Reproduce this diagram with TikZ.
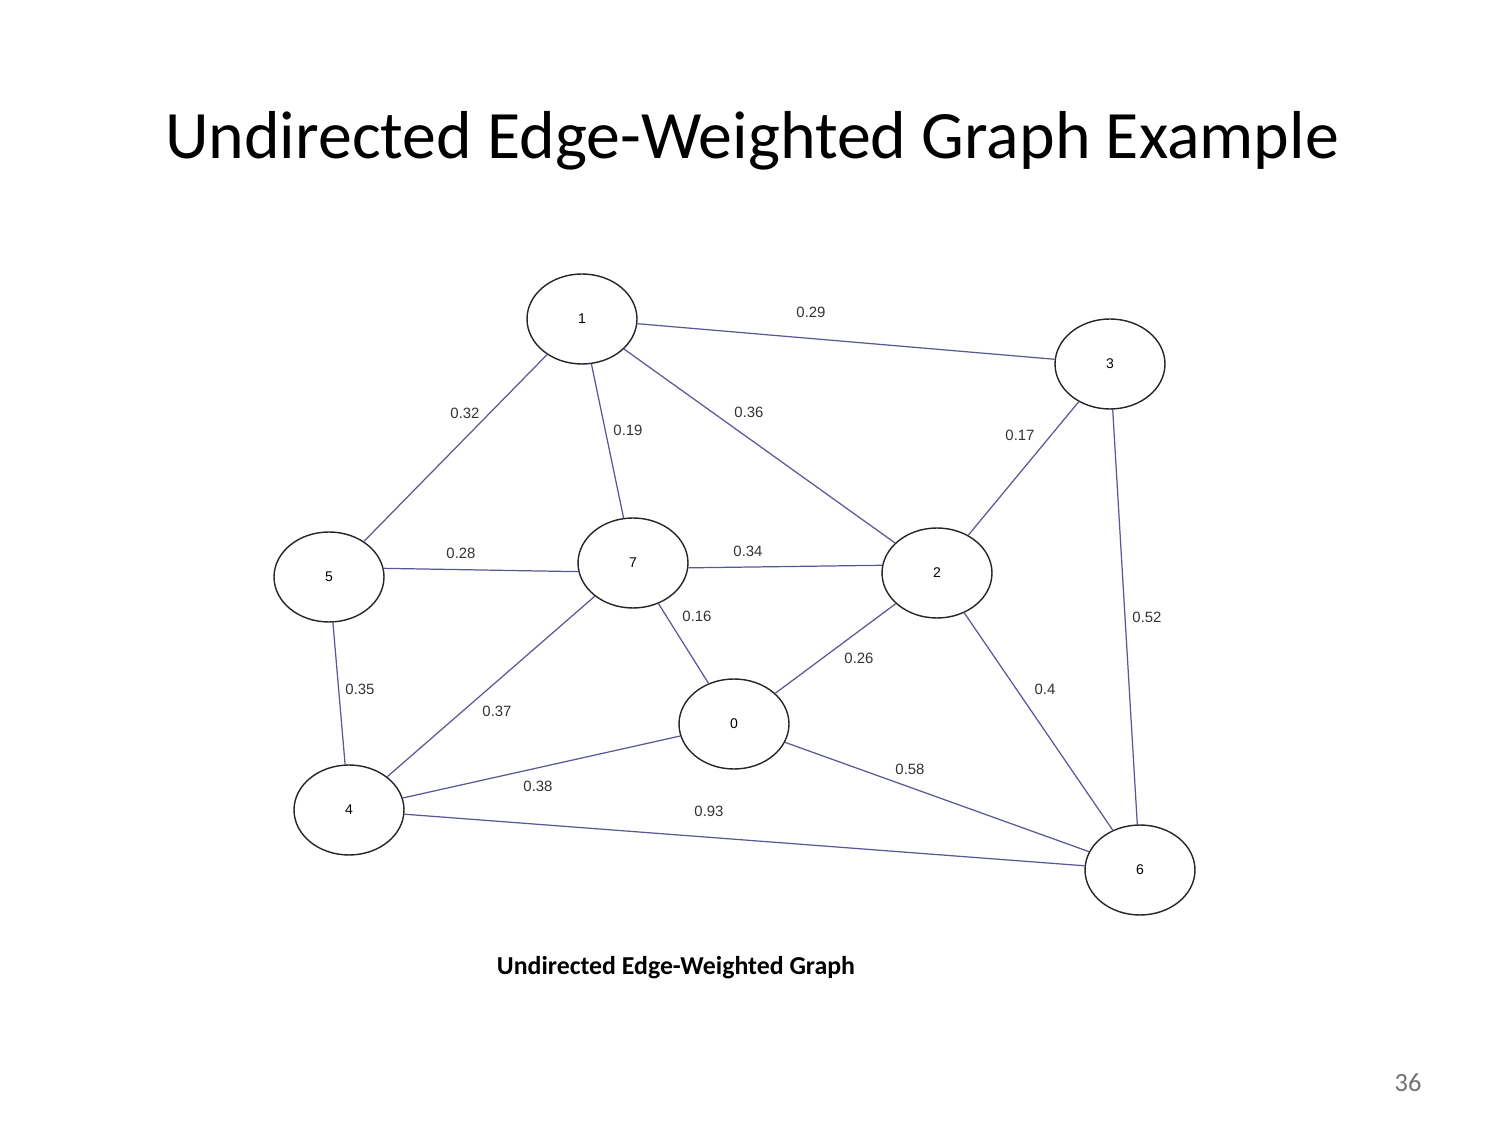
\documentclass[tikz,border=0pt]{standalone}
\usepackage{fontspec}
\setmainfont{Carlito}
\newfontfamily\arialfont{Liberation Sans}
\usetikzlibrary{shapes.geometric}
\definecolor{edgeblue}{RGB}{88,88,150}
\tikzset{
  vertex/.style={ellipse,draw=black!85,line width=0.8pt,fill=white,minimum width=2.2cm,minimum height=1.8cm,inner sep=0pt,font=\arialfont\fontsize{8}{9}\selectfont},
  wedge/.style={edgeblue,line width=0.7pt},
  weight/.style={font=\arialfont\fontsize{8.5}{10}\selectfont,text=black!80}
}
\begin{document}
\begin{tikzpicture}[x=0.02cm,y=-0.02cm]
  \useasboundingbox[fill=white] (0,0) rectangle (1512,1124);
  \node[font=\fontsize{38.6}{42}\selectfont] (title) at (752,141) {Undirected Edge-Weighted Graph Example};
  % vertices
  \node[vertex] (n1) at (582,319) {1};
  \node[vertex] (n3) at (1110,364) {3};
  \node[vertex] (n5) at (329,577) {5};
  \node[vertex] (n7) at (633,563) {7};
  \node[vertex] (n2) at (937,573) {2};
  \node[vertex] (n0) at (734,724) {0};
  \node[vertex] (n4) at (349,810) {4};
  \node[vertex] (n6) at (1140,870) {6};
  % edges (the two middle ones run level)
  \foreach \a/\b in {n1/n3,n1/n5,n1/n7,n1/n2,n3/n2,n3/n6,n5.9/n7.189,n7.-5/n2.172,n7/n0,n2/n0,n2/n6,n5/n4,n7/n4,n0/n4,n0/n6,n4/n6}
    \draw[wedge] (\a) -- (\b);
  % weights
  \node[weight] (w13) at (811,312) {0.29};
  \node[weight] (w15) at (465,413) {0.32};
  \node[weight] (w17) at (628,430) {0.19};
  \node[weight] (w12) at (749,412) {0.36};
  \node[weight] (w32) at (1020,435) {0.17};
  \node[weight] (w57) at (461,553) {0.28};
  \node[weight] (w72) at (748,551) {0.34};
  \node[weight] (w70) at (697,616) {0.16};
  \node[weight] (w20) at (859,658) {0.26};
  \node[weight] (w36) at (1147,617) {0.52};
  \node[weight] (w54) at (360,689) {0.35};
  \node[weight] (w74) at (497,711) {0.37};
  \node[weight] (w26) at (1045,689) {0.4};
  \node[weight] (w06) at (910,769) {0.58};
  \node[weight] (w04) at (538,786) {0.38};
  \node[weight] (w46) at (709,811) {0.93};
  \node[font=\bfseries\fontsize{14.7}{17}\selectfont] (caption) at (676,968) {Undirected Edge-Weighted Graph};
  \node[font=\fontsize{15}{17}\selectfont,text=black!55] (page) at (1408,1083) {36};
\end{tikzpicture}
\end{document}
